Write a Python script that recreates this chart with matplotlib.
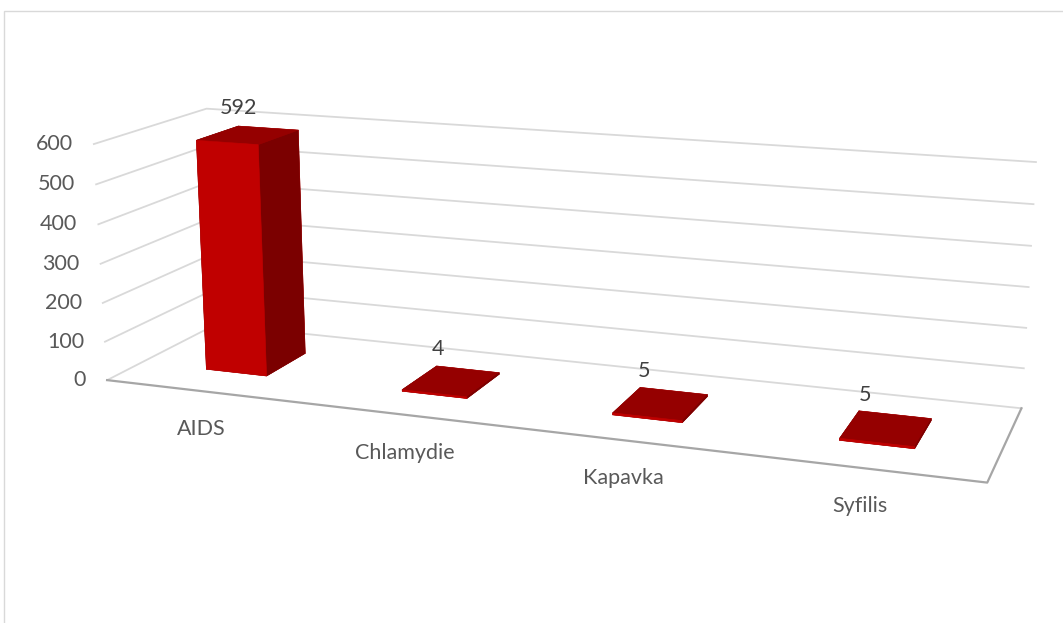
import matplotlib.pyplot as plt
import numpy as np
from matplotlib.patches import Rectangle
from matplotlib.transforms import offset_copy

# Reported cases per disease
categories = ["AIDS", "Chlamydie", "Kapavka", "Syfilis"]
cases = [592, 4, 5, 5]
z_ticks = [0, 100, 200, 300, 400, 500, 600]

FRONT = "#c00000"
SIDE = "#7b0000"
TOP = "#950000"
GRID = "#d9d9d9"
EDGE = "#a6a6a6"
LABEL = "#595959"
VALUE = "#404040"
FS = 15.5

plt.rcParams["font.family"] = ["Lato", "DejaVu Sans"]

fig = plt.figure(figsize=(10.63, 6.23), dpi=100)
fig.patch.set_facecolor("white")

# chart area frame (runs off the right and bottom edges)
fig.add_artist(Rectangle((4 / 1063, -0.05), 1.2, 1.05 - 11 / 623,
                         transform=fig.transFigure, fill=False,
                         edgecolor=GRID, linewidth=1.0, zorder=0))

ax = fig.add_axes([0.0688, -0.2138, 0.8812, 1.5036], projection="3d")
ax.patch.set_visible(False)
ax.set_axis_off()
ax.computed_zorder = False
for axis in (ax.xaxis, ax.yaxis, ax.zaxis):
    axis.label.set_visible(False)
    axis.offsetText.set_visible(False)
for t in (ax.title, ax._left_title, ax._right_title):
    t.set_visible(False)

n = len(categories)
ax.set_xlim(0, n)
ax.set_ylim(0, 1)
ax.set_zlim(0, z_ticks[-1])
ax.set_box_aspect((n, 1.01, 1.10))
ax.set_proj_type("persp", focal_length=0.403)
ax.view_init(elev=14.2, azim=-70)

# gridlines on the side and back walls, with value ticks
tick_tf = offset_copy(ax.transData, fig=fig, x=-21, y=0, units="dots")
for z in z_ticks:
    ax.plot([0, 0, n], [0, 1, 1], [z, z, z], color=GRID, linewidth=1.3,
            zorder=1, clip_on=False)
    ax.text(0, 0, z, f"{z}", transform=tick_tf, ha="right", va="center",
            fontsize=FS, color=LABEL, zorder=5)

# floor outline: front and right edges
ax.plot([0, n, n], [0, 0, 1], [0, 0, 0], color=EDGE, linewidth=1.6,
        zorder=1.5, clip_on=False)

# columns
bar_w, bar_d = 0.315, 0.39
centers = np.arange(n) + 0.5
xs = centers - bar_w / 2
ys = np.full(n, 0.5 - bar_d / 2)
# face order used by bar3d: -z, +z, -y, +y, -x, +x
face_colors = [TOP, TOP, FRONT, FRONT, SIDE, SIDE] * n
ax.bar3d(xs, ys, np.zeros(n), bar_w, bar_d, cases, color=face_colors,
         edgecolor=face_colors, linewidth=0.4, shade=False, zorder=3,
         clip_on=False)

# value labels above the columns
value_tf = offset_copy(ax.transData, fig=fig, x=-30, y=20, units="dots")
for cx, v in zip(centers, cases):
    ax.text(cx, 0.5 + bar_d / 2, v, f"{v}", transform=value_tf,
            ha="center", va="center", fontsize=FS, color=VALUE, zorder=6)

# category labels below the floor
cat_tf = offset_copy(ax.transData, fig=fig, x=-2, y=-38, units="dots")
for cx, name in zip(centers, categories):
    ax.text(cx, 0, 0, name, transform=cat_tf, ha="center", va="center",
            fontsize=FS, color=LABEL, zorder=5)

fig.savefig("out.png", dpi=100, facecolor="white")
